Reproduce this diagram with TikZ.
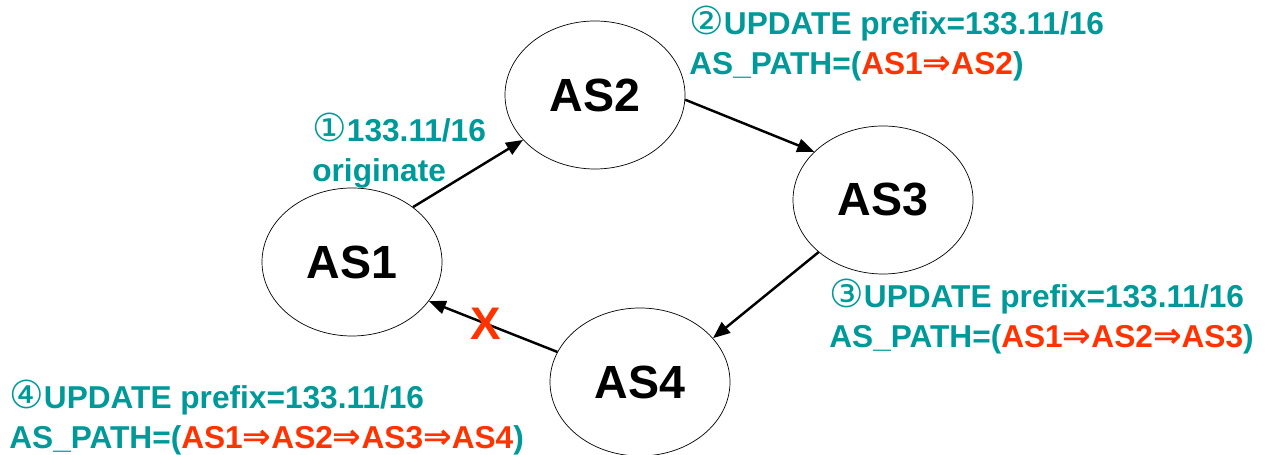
\documentclass[tikz,border=0pt]{standalone}
\usepackage{fontspec}
\setmainfont{Liberation Sans}
\newfontfamily\circfont[Scale=1.22]{DejaVu Sans}
\newfontfamily\arrowfont[Scale=1.08]{DejaVu Sans}
\usepackage{xcolor}
\definecolor{bgpTeal}{HTML}{009999}
\definecolor{bgpRed}{HTML}{FF3300}
\usetikzlibrary{arrows.meta,shapes.geometric}

% circled step number and path arrow
\newcommand{\stepno}[1]{{\circfont\mdseries #1}}
\newcommand{\hop}{{\arrowfont ⇒}}
\newcommand{\aspath}[1]{\textcolor{bgpRed}{#1}}

\begin{document}
\begin{tikzpicture}[font=\bfseries,
  asnode/.style={draw, thin, ellipse, minimum width=3.6cm, minimum height=2.96cm, inner sep=0pt, font=\bfseries\fontsize{26.5}{26.5}\selectfont},
  adv/.style={line width=1.4pt, -{Triangle[length=3.4mm,width=2.7mm]}},
  upd/.style={anchor=north west, inner sep=0pt, align=left, text=bgpTeal, font=\bfseries\fontsize{18}{22.7}\selectfont}]
\useasboundingbox (0,0) rectangle (25.32,9.1);

\node[asnode] (as1) at (7.04,3.86) {AS1};
\node[asnode] (as2) at (11.9,7.2) {AS2};
\node[asnode] (as3) at (17.66,5.1) {AS3};
\node[asnode] (as4) at (12.8,1.46) {AS4};

\draw[adv] (as1.42) -- (as2.212);
\draw[adv] (as2.357) -- (as3.145);
\draw[adv] (as3.219) -- (as4.31);
\draw[adv] (as4.160) -- node[pos=0.56, text=bgpRed, font=\bfseries\fontsize{26}{26}\selectfont] {X} (as1.333);

\node[upd] (upd1) at (6.24,6.84) {\stepno{①}133.11/16\\originate};
\node[upd] (upd2) at (13.78,8.98) {\stepno{②}UPDATE prefix=133.11/16\\AS\_PATH=(\aspath{AS1\hop AS2})};
\node[upd] (upd3) at (16.58,3.52) {\stepno{③}UPDATE prefix=133.11/16\\AS\_PATH=(\aspath{AS1\hop AS2\hop AS3})};
\node[upd] (upd4) at (0.18,1.5) {\stepno{④}UPDATE prefix=133.11/16\\AS\_PATH=(\aspath{AS1\hop AS2\hop AS3\hop AS4})};
\end{tikzpicture}
\end{document}
